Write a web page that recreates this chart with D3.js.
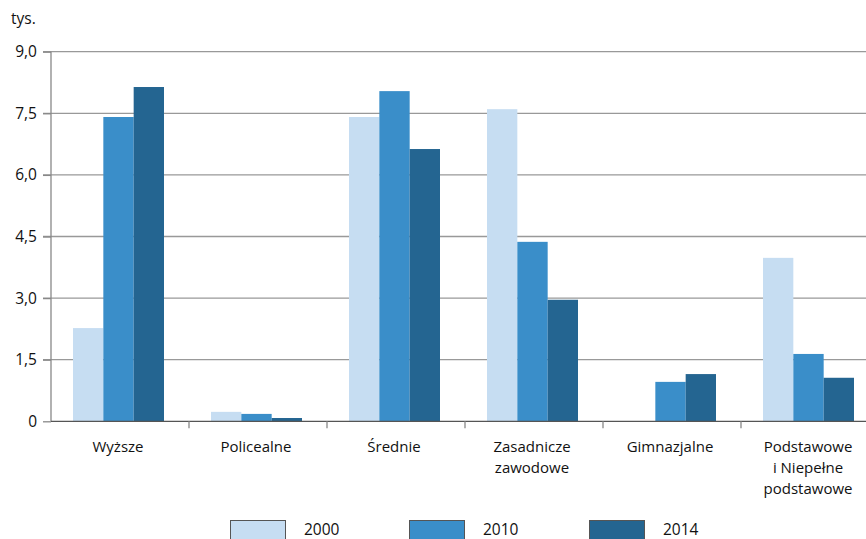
<!DOCTYPE html>
<html><head><meta charset="utf-8">
<script src="https://cdn.jsdelivr.net/npm/d3@7"></script>
<style>body{margin:0;background:#fff}svg{display:block}text{font-family:"Open Sans",sans-serif;fill:#111}</style>
</head><body><svg id="c" width="866" height="539"></svg>
<script>
const categories = ["Wyższe","Policealne","Średnie","Zasadnicze\nzawodowe","Gimnazjalne","Podstawowe\ni Niepełne\npodstawowe"];
const years = ["2000","2010","2014"];
const v2000 = [2.27,0.23,7.41,7.60,0,3.98];
const v2010 = [7.41,0.18,8.04,4.37,0.96,1.64];
const v2014 = [8.14,0.08,6.63,2.96,1.15,1.06];
const yTicks = [0,1.5,3.0,4.5,6.0,7.5,9.0];
const colors = ["#c6ddf2","#3a8ec9","#246591"];
const series = [v2000,v2010,v2014];

const svg = d3.select("#c");
const x0 = d3.scaleBand().domain(categories).range([51,879]).paddingInner(0).paddingOuter(0);
const y = d3.scaleLinear().domain([0,9]).range([421.3,51.7]);
const gw = 91;
const x1 = d3.scaleBand().domain(years).range([0,gw]);

// gridlines
svg.append("g").selectAll("line").data(yTicks.filter(d=>d>0)).join("line")
  .attr("x1",43).attr("x2",866).attr("y1",d=>y(d)).attr("y2",d=>y(d))
  .attr("stroke","#999").attr("stroke-width",1.3);

// bars
categories.forEach((c,i)=>{
  const g = svg.append("g").attr("transform",`translate(${x0(c)+22},0)`);
  years.forEach((yr,j)=>{
    const val = series[j][i];
    if(val>0) g.append("rect").attr("x",x1(yr)).attr("width",x1.bandwidth())
      .attr("y",y(val)).attr("height",y(0)-y(val)).attr("fill",colors[j]);
  });
});

// y axis
const ya = svg.append("g").attr("transform","translate(51,0)")
  .call(d3.axisLeft(y).tickValues(yTicks).tickSize(8).tickPadding(6)
    .tickFormat(d=>d===0?"0":d3.format(".1f")(d).replace(".",",")));
ya.select(".domain").attr("stroke","#888").attr("stroke-width",1.3).attr("d","M0,51.7V421.3");
ya.selectAll(".tick line").attr("stroke","#888").attr("stroke-width",1.3);
ya.selectAll(".tick text").attr("font-size",15.5).attr("font-family","Open Sans").attr("fill","#111");

// x axis
const xa = svg.append("g").attr("transform",`translate(0,${y(0)})`);
xa.append("line").attr("x1",51).attr("x2",866).attr("stroke","#555").attr("stroke-width",1.3);
xa.selectAll("line.t").data(categories.slice(1)).join("line").attr("class","t")
  .attr("x1",d=>x0(d)).attr("x2",d=>x0(d)).attr("y1",0).attr("y2",7).attr("stroke","#888").attr("stroke-width",1.3);
categories.forEach(c=>{
  const lines = c.split("\n");
  const t = xa.append("text").attr("text-anchor","middle").attr("font-size",15)
    .attr("x",x0(c)+x0.bandwidth()/2-2).attr("y",31);
  lines.forEach((l,k)=>t.append("tspan").attr("x",x0(c)+x0.bandwidth()/2-2).attr("dy",k?21:0).text(l));
});

svg.append("text").attr("x",11).attr("y",24).attr("font-size",15.5).text("tys.");

// legend
const lx = [230,409,589];
years.forEach((yr,j)=>{
  svg.append("rect").attr("x",lx[j]+0.5).attr("y",520.5).attr("width",55).attr("height",30)
    .attr("fill",colors[j]).attr("stroke","#555").attr("stroke-width",1);
  svg.append("text").attr("x",lx[j]+74).attr("y",535).attr("font-size",15.5).text(yr);
});
</script></body></html>
